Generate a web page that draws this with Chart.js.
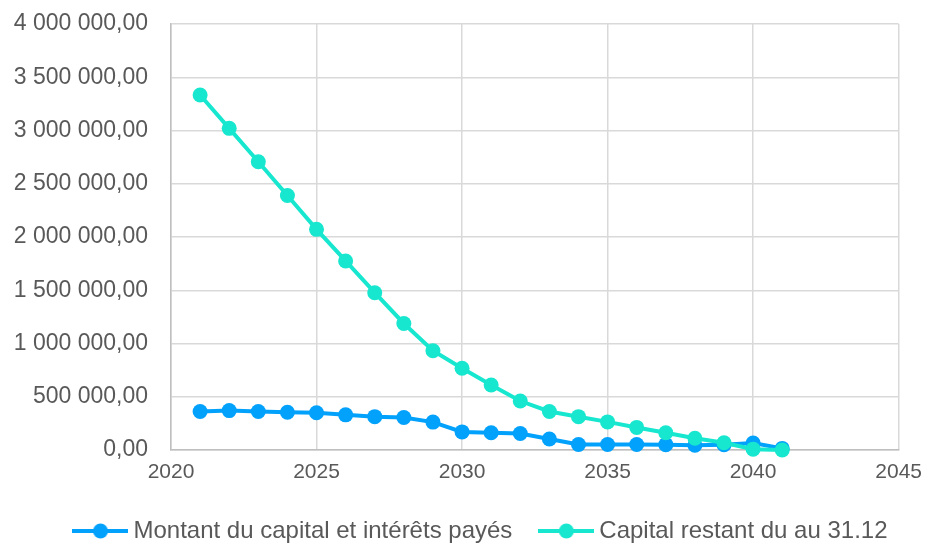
<!DOCTYPE html>
<html>
<head>
<meta charset="utf-8">
<script src="https://cdn.jsdelivr.net/npm/chart.js@4/dist/chart.umd.min.js"></script>
<style>
  html, body { margin: 0; padding: 0; background: #fff; }
  #wrap { width: 927px; height: 545px; }
</style>
</head>
<body>
<div id="wrap"><canvas id="chartCanvas" width="927" height="545"></canvas></div>
<script>
// données
var years = [2021, 2022, 2023, 2024, 2025, 2026, 2027, 2028, 2029, 2030, 2031,
             2032, 2033, 2034, 2035, 2036, 2037, 2038, 2039, 2040, 2041];
var paye = [362000, 370000, 362000, 355000, 350000, 330000, 313000, 305000, 262000, 170000, 162000,
            155000, 103000, 52000, 52000, 52000, 50000, 45000, 50000, 65000, 15000];
var restant = [3333000, 3020000, 2707000, 2390000, 2072000, 1775000, 1477000, 1188000, 932000, 768000, 610000,
               460000, 362000, 313000, 264000, 212000, 162000, 110000, 68000, 8000, 0];
var seriesNames = ['Montant du capital et intérêts payés', 'Capital restant du au 31.12'];
var xTicks = [2020, 2025, 2030, 2035, 2040, 2045];
var yMax = 4000000, yStep = 500000;

var colBlue = '#02A1FB';
var colCyan = '#17E7CF';
var textCol = '#595959';

function fmtNum(v) {
  var s = Math.round(v).toString().replace(/\B(?=(\d{3})+(?!\d))/g, ' ');
  return s + ',00';
}

function pts(arr) {
  return years.map(function(y, i) { return { x: y, y: arr[i] }; });
}

// marqueur de légende : trait + rond
function legendMarker(color) {
  var c = document.createElement('canvas');
  c.width = 56; c.height = 16;
  var g = c.getContext('2d');
  g.strokeStyle = color; g.lineWidth = 4;
  g.beginPath(); g.moveTo(0, 8); g.lineTo(56, 8); g.stroke();
  g.fillStyle = color;
  g.beginPath(); g.arc(28, 8, 7.5, 0, Math.PI * 2); g.fill();
  return c;
}

// décale la légende vers la droite comme dans l'original
var legendShift = {
  id: 'legendShift',
  afterLayout: function(chart) {
    if (chart.legend) {
      chart.legend.left += 20;
      chart.legend.right += 20;
    }
  }
};

Chart.defaults.font.family = '"Liberation Sans", Arial, sans-serif';
Chart.defaults.font.size = 21;
Chart.defaults.color = textCol;

var ctx = document.getElementById('chartCanvas').getContext('2d');
new Chart(ctx, {
  type: 'line',
  data: {
    datasets: [
      {
        label: seriesNames[0],
        data: pts(paye),
        borderColor: colBlue,
        backgroundColor: colBlue,
        borderWidth: 4,
        pointRadius: 7.5,
        pointBorderWidth: 0,
        tension: 0,
        clip: false,
        order: 1
      },
      {
        label: seriesNames[1],
        data: pts(restant),
        borderColor: colCyan,
        backgroundColor: colCyan,
        borderWidth: 4,
        pointRadius: 7.5,
        pointBorderWidth: 0,
        tension: 0,
        clip: false,
        order: 0
      }
    ]
  },
  plugins: [legendShift],
  options: {
    responsive: false,
    animation: false,
    layout: { padding: { top: 24, right: 0, left: 0, bottom: 0 } },
    plugins: {
      legend: {
        position: 'bottom',
        maxHeight: 59,
        labels: {
          usePointStyle: true,
          pointStyleWidth: 42,
          boxHeight: 16,
          padding: 33,
          color: textCol,
          font: { size: 24 },
          generateLabels: function(chart) {
            return chart.data.datasets.map(function(ds, i) {
              return {
                text: ds.label,
                pointStyle: legendMarker(ds.borderColor),
                fillStyle: ds.borderColor,
                strokeStyle: ds.borderColor,
                lineWidth: 0,
                fontColor: textCol,
                datasetIndex: i
              };
            });
          }
        }
      },
      tooltip: { enabled: false }
    },
    scales: {
      x: {
        type: 'linear',
        min: xTicks[0],
        max: xTicks[xTicks.length - 1],
        afterBuildTicks: function(axis) {
          axis.ticks = xTicks.map(function(v) { return { value: v }; });
        },
        ticks: { padding: 5, font: { size: 21 }, callback: function(v) { return String(v); }, maxRotation: 0 },
        grid: { color: '#D9D9D9', lineWidth: 1.5, drawTicks: true, tickLength: 5, tickColor: 'rgba(0,0,0,0)' },
        border: { color: '#BFBFBF', width: 1.5 },
        afterFit: function(axis) { axis.height = 36; }
      },
      y: {
        min: 0,
        max: yMax,
        ticks: { stepSize: yStep, padding: 0, font: { size: 23 }, callback: function(v) { return fmtNum(v); } },
        grid: { color: '#D9D9D9', lineWidth: 1.5, drawTicks: true, tickLength: 23, tickColor: 'rgba(0,0,0,0)' },
        border: { color: '#BFBFBF', width: 1.5 },
        afterFit: function(axis) { axis.width = 171; }
      }
    }
  }
});
</script>
</body>
</html>
